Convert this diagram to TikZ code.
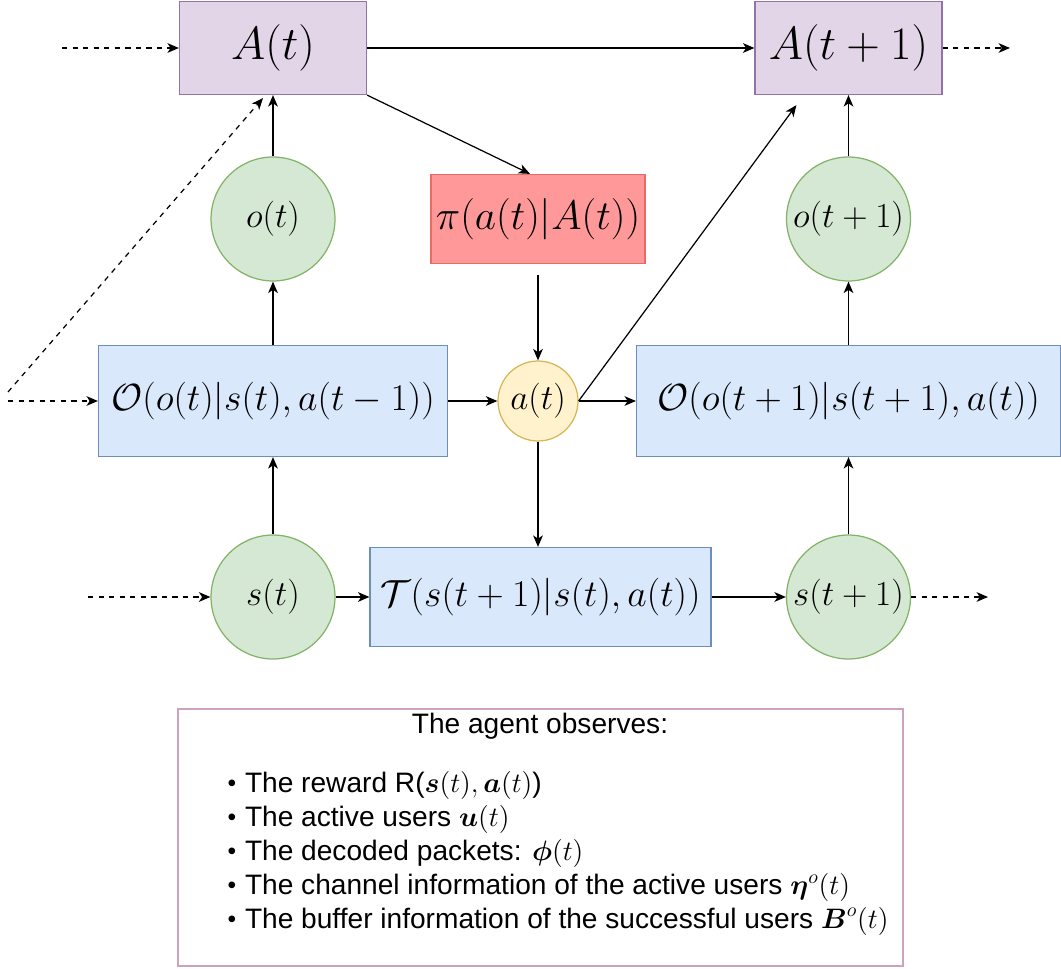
\documentclass[tikz,border=0pt]{standalone}
\usepackage{fix-cm}
\usepackage{amsmath}
\usepackage{fontspec}
\newfontfamily\obsfont{Liberation Sans}
\usetikzlibrary{arrows.meta}
\definecolor{beliefFill}{HTML}{E1D5E7}
\definecolor{beliefLine}{HTML}{9673A6}
\definecolor{policyFill}{HTML}{FF9999}
\definecolor{policyLine}{HTML}{EA6B66}
\definecolor{modelFill}{HTML}{DAE8FC}
\definecolor{modelLine}{HTML}{6C8EBF}
\definecolor{varFill}{HTML}{D5E8D4}
\definecolor{varLine}{HTML}{82B366}
\definecolor{actFill}{HTML}{FFF2CC}
\definecolor{actLine}{HTML}{D6B656}
\definecolor{noteLine}{HTML}{CDA2BE}
\newcommand{\BoxMath}{\fontsize{21.5}{25}\selectfont}
\newcommand{\VarMath}{\fontsize{20}{24}\selectfont}
\newcommand{\obsitem}{\raisebox{0.5pt}{\fontsize{14}{14}\selectfont\textbullet}\hspace{5pt}}
\tikzset{
  belief/.style={draw=beliefLine, fill=beliefFill, minimum width=3.74cm, minimum height=1.86cm, font=\fontsize{26.5}{30}\selectfont},
  policy/.style={draw=policyLine, fill=policyFill, minimum width=4.28cm, minimum height=1.78cm, inner sep=0pt, font=\fontsize{23.5}{28}\selectfont},
  model/.style={draw=modelLine, fill=modelFill, minimum height=2.22cm, font=\BoxMath},
  var/.style={circle, draw=varLine, fill=varFill, minimum size=2.48cm, inner sep=0pt, font=\VarMath},
  act/.style={circle, draw=actLine, fill=actFill, minimum size=1.6cm, inner sep=0pt, font=\VarMath},
  note/.style={draw=noteLine, minimum width=14.5cm, minimum height=5.14cm},
  obstext/.style={inner sep=0pt, font=\obsfont\fontsize{16}{19}\selectfont}
}
\begin{document}
\begin{tikzpicture}[x=0.02cm, y=-0.02cm, line width=0.7pt, >={Stealth[length=6.5pt,width=5.5pt,inset=1.8pt]}]
\useasboundingbox (0,0) rectangle (1061,969);

\node[belief] (At) at (273,48) {$A(t)$};
\node[belief] (At1) at (848.5,48) {$A(t+1)$};
\node[policy] (pi) at (538,219) {$\pi(a(t)|A(t))$};
\node[var] (ot) at (273,219) {$o(t)$};
\node[var] (ot1) at (848.5,219) {$o(t+1)$};
\node[model, minimum width=6.98cm] (Ot) at (273,401) {$\mathcal{O}(o(t)|s(t),a(t-1))$};
\node[act] (at) at (538,401) {$a(t)$};
\node[model, minimum width=8.48cm] (Ot1) at (848.5,401) {$\mathcal{O}(o(t+1)|s(t+1),a(t))$};
\node[var] (st) at (273,597) {$s(t)$};
\node[model, minimum width=6.82cm, minimum height=1.98cm] (T) at (540.5,597) {$\mathcal{T}(s(t+1)|s(t),a(t))$};
\node[var] (st1) at (848.5,597) {$s(t+1)$};

\node[note] (obs) at (540.5,837.5) {};
\node[obstext, anchor=base] (obsTitle) at (540,733) {The agent observes:};
\node[obstext, anchor=base west] (obs1) at (227,792) {\obsitem The reward R($\boldsymbol{s}(t),\boldsymbol{a}(t)$)};
\node[obstext, anchor=base west] (obs2) at (227,826) {\obsitem The active users $\boldsymbol{u}(t)$};
\node[obstext, anchor=base west] (obs3) at (227,860) {\obsitem The decoded packets: $\boldsymbol{\phi}(t)$};
\node[obstext, anchor=base west] (obs4) at (227,894) {\obsitem The channel information of the active users $\boldsymbol{\eta}^o(t)$};
\node[obstext, anchor=base west] (obs5) at (227,928) {\obsitem The buffer information of the successful users $\boldsymbol{B}^o(t)$};

\coordinate (inA) at (62,48);
\coordinate (outA) at (1010,48);
\coordinate (inO) at (8,401);
\coordinate (inB) at (8,392);
\coordinate (inS) at (88,597);
\coordinate (outS) at (988,597);

\path[->] (inA) edge [dashed] (At)
  (At) edge (At1)
  (At1) edge [dashed] (outA)
  (At.south east) edge ([xshift=-0.16cm]pi.north)
  (pi) edge [shorten <=0.22cm] (at)
  (ot) edge (At)
  (Ot) edge (ot)
  (st) edge (Ot)
  (inO) edge [dashed] (Ot)
  (inB) edge [dashed] ([xshift=-0.2cm,yshift=-0.06cm]At.south)
  (Ot) edge (at)
  (at) edge (Ot1)
  (at.east) edge ([xshift=0.84cm,yshift=-0.2cm]At1.south west)
  (at.south) edge (at.south |- T.north)
  (inS) edge [dashed] (st)
  (st) edge (T)
  (T) edge (st1)
  (st1) edge [dashed] (outS)
  (st1) edge (Ot1)
  (Ot1) edge (ot1)
  (ot1) edge (At1);
\end{tikzpicture}
\end{document}
